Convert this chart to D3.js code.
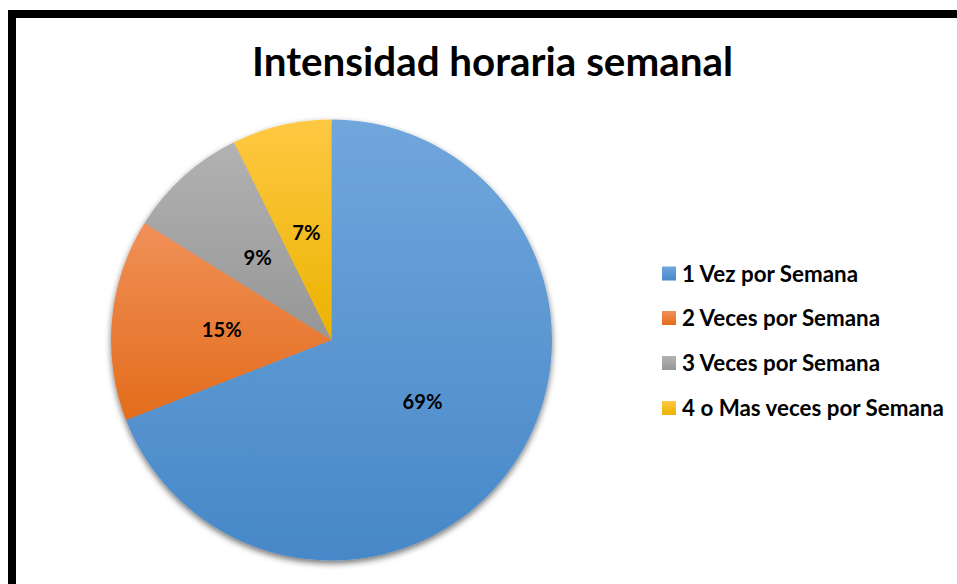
<!DOCTYPE html>
<html>
<head>
<meta charset="utf-8">
<script src="https://cdn.jsdelivr.net/npm/d3@7/dist/d3.min.js"></script>
<style>
  html, body { margin: 0; padding: 0; background: #fff; }
  svg { display: block; }
  text { font-family: Lato, "Open Sans", sans-serif; font-weight: 700; fill: #000; }
</style>
</head>
<body>
<svg id="chart" width="957" height="584"></svg>
<script>
// ---- data ----
const title = "Intensidad horaria semanal";
const categories = ["1 Vez por Semana", "2 Veces por Semana", "3 Veces por Semana", "4 o Mas veces por Semana"];
const values = [69.1, 14.8, 8.8, 7.3];
const topColors = ["#70A6DC", "#F09058", "#B2B2B2", "#FFC843"];
const bottomColors = ["#4788C8", "#E36C1C", "#969696", "#EBB300"];

// ---- layout ----
const W = 957, H = 584;
const cx = 331.5, cy = 340, R = 220.5;

const svg = d3.select("#chart");
const defs = svg.append("defs");

svg.append("rect").attr("width", W).attr("height", H).attr("fill", "#fff");

// frame (left and top visible)
svg.append("rect").attr("x", 8).attr("y", 10).attr("width", 8).attr("height", H - 10).attr("fill", "#000");
svg.append("rect").attr("x", 8).attr("y", 10).attr("width", W - 8).attr("height", 8).attr("fill", "#000");

function fitText(sel, targetWidth, startSize) {
  sel.attr("font-size", startSize);
  const w = sel.node().getComputedTextLength();
  sel.attr("font-size", startSize * targetWidth / w);
}

// title
const t = svg.append("text")
  .attr("x", 492.5).attr("y", 76)
  .attr("text-anchor", "middle")
  .text(title);
fitText(t, 481, 40);

// gradients
categories.forEach((c, i) => {
  const g = defs.append("linearGradient")
    .attr("id", "grad" + i)
    .attr("x1", 0).attr("y1", 0).attr("x2", 0).attr("y2", 1);
  g.append("stop").attr("offset", "0%").attr("stop-color", topColors[i]);
  g.append("stop").attr("offset", "100%").attr("stop-color", bottomColors[i]);
});

// shadow
const f = defs.append("filter").attr("id", "shadow")
  .attr("x", "-10%").attr("y", "-10%").attr("width", "120%").attr("height", "125%");
f.append("feDropShadow").attr("dx", 0).attr("dy", 3).attr("stdDeviation", 3)
  .attr("flood-color", "#000").attr("flood-opacity", 0.55);

const pie = d3.pie().sort(null).value(d => d);
const arcs = pie(values);
const arc = d3.arc().innerRadius(0).outerRadius(R);

const pg = svg.append("g").attr("transform", `translate(${cx},${cy})`);
pg.append("g").attr("filter", "url(#shadow)")
  .selectAll("path").data(arcs).join("path")
  .attr("d", arc)
  .attr("fill", (d, i) => `url(#grad${i})`);

const total = d3.sum(values);
pg.selectAll("text.lbl").data(arcs).join("text")
  .attr("class", "lbl")
  .attr("transform", d => `translate(${arc.centroid(d)})`)
  .attr("text-anchor", "middle")
  .attr("dy", "0.35em")
  .attr("font-size", 20)
  .text(d => Math.round(d.data / total * 100) + "%");

// legend
const legendY = [273.5, 318, 363, 408];
const lg = svg.append("g");
categories.forEach((c, i) => {
  lg.append("rect")
    .attr("x", 662).attr("y", legendY[i] - 7)
    .attr("width", 14).attr("height", 14)
    .attr("fill", `url(#grad${i})`);
  lg.append("text")
    .attr("x", 682).attr("y", legendY[i])
    .attr("dy", "0.36em")
    .attr("font-size", 20)
    .text(c);
});
const lt = lg.selectAll("text");
const w0 = lt.nodes()[3].getComputedTextLength();
lt.attr("font-size", 20 * 262 / w0);
const pl = pg.selectAll("text.lbl");
const w1 = pl.nodes()[0].getComputedTextLength();
pl.attr("font-size", 20 * 40 / w1);
</script>
</body>
</html>
